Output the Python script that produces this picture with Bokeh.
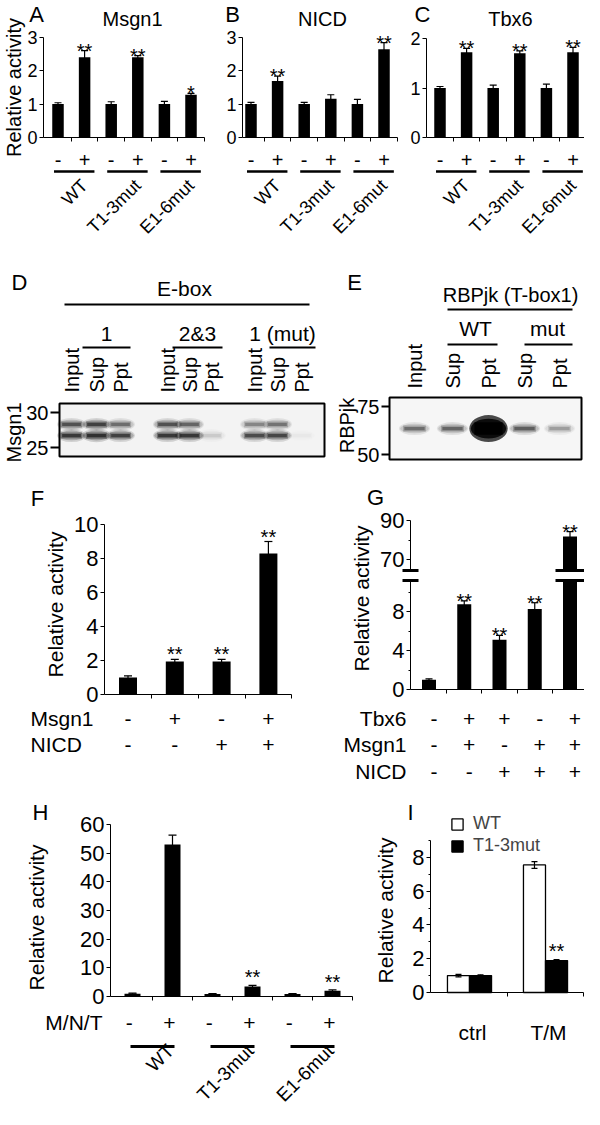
import math
from bokeh.plotting import figure
from bokeh.models import Range1d, LinearAxis, FixedTicker, Legend, LegendItem
from bokeh.layouts import row, column
from bokeh.embed import file_html
from bokeh.resources import INLINE
from bokeh.core.properties import value

FONT = "Liberation Sans"
PI = math.pi

# ===================== data =====================
# A-C: reporter activity of WT / mutant promoters with / without effector
promoters = ["WT", "T1-3mut", "E1-6mut"]
effector_signs = ["-", "+", "-", "+", "-", "+"]

msgn1_act = [1.00, 2.40, 1.00, 2.40, 1.00, 1.28]
msgn1_err = [0.04, 0.20, 0.07, 0.05, 0.08, 0.04]
msgn1_sig = ["", "**", "", "**", "", "*"]

nicd_act = [1.00, 1.69, 1.00, 1.16, 1.00, 2.64]
nicd_err = [0.05, 0.15, 0.05, 0.12, 0.14, 0.20]
nicd_sig = ["", "**", "", "", "", "**"]

tbx6_act = [1.00, 1.72, 1.00, 1.70, 1.00, 1.72]
tbx6_err = [0.03, 0.08, 0.06, 0.05, 0.08, 0.10]
tbx6_sig = ["", "**", "", "**", "", "**"]

# D: E-box pull-down, Msgn1 western blot
d_lanes = ["Input", "Sup", "Ppt", "Input", "Sup", "Ppt", "Input", "Sup", "Ppt"]
d_probes = ["1", "2&3", "1 (mut)"]
d_band_kda = [28.3, 26.7]
d_upper = [0.75, 0.90, 0.55, 0.75, 0.60, 0.00, 0.40, 0.50, 0.00]
d_lower = [1.00, 1.10, 0.90, 1.00, 1.00, 0.12, 0.80, 0.85, 0.03]
d_markers = [25, 30]

# E: T-box1 pull-down, RBPjk western blot
e_lanes = ["Input", "Sup", "Ppt", "Sup", "Ppt"]
e_probes = ["WT", "mut"]
e_band_kda = 63.5
e_signal = [0.55, 0.60, 8.0, 0.65, 0.30]
e_markers = [50, 75]

# F
f_msgn1 = ["-", "+", "-", "+"]
f_nicd = ["-", "-", "+", "+"]
f_act = [1.00, 1.94, 1.94, 8.30]
f_err = [0.10, 0.13, 0.13, 0.70]
f_sig = ["", "**", "**", "**"]

# G
g_tbx6 = ["-", "+", "+", "-", "+"]
g_msgn1 = ["-", "+", "-", "+", "+"]
g_nicd = ["-", "-", "+", "+", "+"]
g_act = [1.00, 8.75, 5.10, 8.25, 81.8]
g_err = [0.10, 0.35, 0.45, 0.65, 2.5]
g_sig = ["", "**", "**", "**", "**"]

# H
h_mnt = ["-", "+", "-", "+", "-", "+"]
h_act = [1.0, 53.0, 0.9, 3.5, 0.9, 2.0]
h_err = [0.15, 3.2, 0.10, 0.40, 0.10, 0.30]
h_sig = ["", "", "", "**", "", "**"]

# I
i_conditions = ["ctrl", "T/M"]
i_wt = [1.00, 7.55]
i_wt_err = [0.07, 0.20]
i_mut = [1.00, 1.89]
i_mut_err = [0.05, 0.06]
i_mut_sig = ["", "**"]


# ===================== helpers =====================
class Panel:
    """A figure whose frame is the whole canvas; px/py are page pixel positions."""
    def __init__(self, left, top, width, height, x0, xs, y0, ys):
        self.x0, self.xs, self.y0, self.ys = x0, xs, y0, ys
        self.p = figure(width=width, height=height, title=None, toolbar_location=None,
                        output_backend="svg", x_axis_type=None, y_axis_type=None,
                        x_range=Range1d(self.X(left), self.X(left + width)),
                        y_range=Range1d(self.Y(top + height), self.Y(top)),
                        min_border_left=0, min_border_right=0,
                        min_border_top=0, min_border_bottom=0,
                        outline_line_color=None)

    def X(self, px):
        return (px - self.x0) / self.xs

    def Y(self, py):
        return (self.y0 - py) / self.ys


def texts(P, xs, ys, strs, size, align="center", baseline="middle", angle=0.0, rname="default"):
    keep = [(x, y, s) for x, y, s in zip(xs, ys, strs) if s]
    if not keep:
        return
    P.p.text(x=[k[0] for k in keep], y=[k[1] for k in keep], text=[k[2] for k in keep],
             text_font=value(FONT), text_font_size=f"{size}px", text_color="black",
             text_align=align, text_baseline=baseline, angle=angle, y_range_name=rname)


def note(P, px, py, s, size, **kw):
    texts(P, [P.X(px)], [P.Y(py)], [s], size, **kw)


def hline(P, x0s, x1s, py, lw):
    P.p.segment(x0=x0s, y0=[P.Y(py)] * len(x0s), x1=x1s, y1=[P.Y(py)] * len(x0s),
                line_color="black", line_width=lw)


def yaxis(P, axis_px, lo, hi, ticks, minor=(), size=18, line=True, tick_out=4,
          tick_width=1, standoff=2, rname="default"):
    ax = LinearAxis(fixed_location=P.X(axis_px), bounds=(lo, hi),
                    ticker=FixedTicker(ticks=list(ticks), minor_ticks=list(minor)),
                    y_range_name=rname)
    ax.major_label_text_font = FONT
    ax.major_label_text_font_size = f"{size}px"
    ax.major_label_text_color = "black"
    ax.major_label_standoff = standoff
    ax.major_tick_in = 0
    ax.major_tick_out = tick_out
    ax.major_tick_line_width = tick_width
    ax.minor_tick_in = 0
    ax.minor_tick_out = 2
    ax.major_tick_line_color = "black"
    ax.minor_tick_line_color = "black"
    ax.axis_line_color = "black" if line else None
    ax.axis_line_width = 1
    P.p.add_layout(ax, "left")


def xaxis(P, lo, hi, minor, tick_out=4):
    ax = LinearAxis(fixed_location=0, bounds=(lo, hi),
                    ticker=FixedTicker(ticks=[], minor_ticks=list(minor)))
    ax.major_tick_in = 0
    ax.major_tick_out = 0
    ax.minor_tick_in = 0
    ax.minor_tick_out = tick_out
    ax.minor_tick_line_color = "black"
    ax.axis_line_color = "black"
    ax.axis_line_width = 1
    P.p.add_layout(ax, "below")


def errbars(P, xs, vals, errs, cap_px=7, rname="default", lw=1.2):
    if not xs:
        return
    lo = [v - e for v, e in zip(vals, errs)]
    hi = [v + e for v, e in zip(vals, errs)]
    hw = cap_px / 2 / P.xs
    P.p.segment(x0=xs, y0=lo, x1=xs, y1=hi, line_color="black", line_width=lw, y_range_name=rname)
    for ends in (hi, lo):
        P.p.segment(x0=[x - hw for x in xs], y0=ends, x1=[x + hw for x in xs], y1=ends,
                    line_color="black", line_width=lw, y_range_name=rname)


def stars(P, xs, vals, errs, sig, size, lift_px, yscale=None, rname="default"):
    ys = yscale or P.ys
    texts(P, xs, [v + e + lift_px / ys for v, e in zip(vals, errs)], sig, size,
          baseline="alphabetic", rname=rname)


def band(P, xs, kda, signal, width_px, base_h=5):
    """Soft blot band: stacked translucent layers, darker/larger with more signal."""
    ys = [kda] * len(xs)
    layers = [("ellipse", 2.6, 1.2, 0.14), ("ellipse", 1.9, 1.1, 0.2),
              ("rect", 1.2, 0.88, 0.32), ("rect", 0.65, 0.78, 0.5)]
    for kind, hmul, wmul, amul in layers:
        hs = [base_h * hmul * max(1.0, s) ** 0.35 for s in signal]
        ws = [width_px * wmul * max(1.0, s) ** 0.1 for s in signal]
        al = [1 - (1 - amul) ** s for s in signal]
        glyph = P.p.ellipse if kind == "ellipse" else P.p.rect
        glyph(x=xs, y=ys, width=ws, height=hs, width_units="screen", height_units="screen",
              fill_color="black", fill_alpha=al, line_color=None)


# ===================== A - C =====================
def promoter_panel(left, width, x0, yscale, axis_px, top_tick, title, title_px,
                   letter, letter_px, vals, errs, sig, ylabel=False):
    P = Panel(left, 8, width, 242, x0, 26.6, 145, yscale)
    n = len(vals)
    xs = list(range(n))
    yaxis(P, axis_px, 0, top_tick, list(range(top_tick + 1)), size=18)
    xaxis(P, P.X(axis_px), n - 0.5, [i + 0.5 for i in xs])
    P.p.vbar(x=xs, top=vals, bottom=0, width=11.5 / 26.6, fill_color="black", line_color=None)
    errbars(P, xs, vals, errs)
    stars(P, xs, vals, errs, sig, 20, 0)
    texts(P, xs, [P.Y(167)] * n, effector_signs, 20)
    npair = len(promoters)
    hline(P, [2 * g - 0.15 for g in range(npair)], [2 * g + 1.37 for g in range(npair)], 179, 2.5)
    texts(P, [2 * g + 1.0 for g in range(npair)], [P.Y(190)] * npair, promoters, 18,
          align="right", angle=PI / 4)
    note(P, title_px, 26, title, 20)
    note(P, letter_px, 9, letter, 22, baseline="top")
    if ylabel:
        note(P, 21, 95, "Relative activity", 20, angle=PI / 2)
    return P


A = promoter_panel(8, 207, 65.5, 33.4, 51, 3, "Msgn1", 140, "A", 44,
                   msgn1_act, msgn1_err, msgn1_sig, ylabel=True)
B = promoter_panel(215, 195, 258.5, 33.4, 250, 3, "NICD", 330, "B", 240,
                   nicd_act, nicd_err, nicd_sig)
C = promoter_panel(410, 182, 447.5, 49.5, 434, 2, "Tbx6", 518, "C", 430,
                   tbx6_act, tbx6_err, tbx6_sig)

# ===================== D =====================
ROW2_H = 230
D = Panel(8, 250, 332, ROW2_H, 0, 1, 630, 7)
D.p.quad(left=[67], right=[332], top=[D.Y(411)], bottom=[D.Y(464)],
         fill_color="#f3f3f3", line_color="black", line_width=2)
d_x = [79, 104, 128, 175, 197, 219, 262, 285, 309]
band(D, d_x, d_band_kda[0], d_upper, 24)
band(D, d_x, d_band_kda[1], d_lower, 24)
yaxis(D, 67, 25, 30, d_markers, size=20, line=False, tick_out=9, tick_width=2)
texts(D, d_x, [D.Y(400)] * len(d_x), d_lanes, 20, align="left", angle=PI / 2)
note(D, 27, 290, "D", 22)
note(D, 192, 296, "E-box", 21)
hline(D, [72], [317], 312, 2)
texts(D, [114, 205, 290], [D.Y(341)] * 3, d_probes, 21)
hline(D, [90, 180, 277], [138, 230, 323], 355, 2)
note(D, 21, 440, "Msgn1", 20, angle=PI / 2)

# ===================== E =====================
E = Panel(340, 250, 252, ROW2_H, 0, 1, 558, 1.92)
E.p.quad(left=[397], right=[589], top=[E.Y(405)], bottom=[E.Y(467)],
         fill_color="#f6f6f6", line_color="black", line_width=2)
e_x = [422, 460, 496, 532, 567]
band(E, e_x, e_band_kda, e_signal, 26)
yaxis(E, 397, 50, 75, e_markers, size=20, line=False, tick_out=8, tick_width=2)
texts(E, e_x, [E.Y(396)] * len(e_x), e_lanes, 20, align="left", angle=PI / 2)
note(E, 362, 290, "E", 22)
note(E, 518, 302, "RBPjk (T-box1)", 20)
hline(E, [455], [580], 317, 2)
texts(E, [483, 555], [E.Y(336)] * 2, e_probes, 21)
hline(E, [455, 532], [505, 580], 352, 2)
note(E, 354, 433, "RBPjk", 20, angle=PI / 2)

# ===================== F =====================
ROW3_TOP = 250 + ROW2_H
ROW3_H = 790 - ROW3_TOP
F = Panel(8, ROW3_TOP, 322, ROW3_H, 135.5, 46.8, 702, 17.0)
fx = list(range(len(f_act)))
yaxis(F, 112, 0, 10, [0, 2, 4, 6, 8, 10], size=22)
xaxis(F, F.X(112), len(fx) - 0.5, [i + 0.5 for i in fx])
F.p.vbar(x=fx, top=f_act, bottom=0, width=18 / 46.8, fill_color="black", line_color=None)
errbars(F, fx, f_act, f_err, cap_px=8)
stars(F, fx, f_act, f_err, f_sig, 20, 5)
note(F, 45, 506, "F", 22)
note(F, 63, 612, "Relative activity", 21, angle=PI / 2)
texts(F, [F.X(38)] * 2, [F.Y(726), F.Y(752)], ["Msgn1", "NICD"], 21, align="left")
texts(F, fx, [F.Y(726)] * len(fx), f_msgn1, 21)
texts(F, fx, [F.Y(752)] * len(fx), f_nicd, 21)

# ===================== G (broken axis) =====================
G = Panel(330, ROW3_TOP, 262, ROW3_H, 436.5, 35.25, 697, 9.75)
UP_PY, UP_VAL, UP_S = 567, 70, 1.95          # upper segment: 70 at py 567, 1.95 px / unit
G.p.extra_y_ranges = {"upper": Range1d(UP_VAL + (UP_PY - 790) / UP_S,
                                       UP_VAL + (UP_PY - ROW3_TOP) / UP_S)}
LOW_BRK = G.Y(588)
HIGH_BRK = UP_VAL + (UP_PY - 578) / UP_S
gx = list(range(len(g_act)))
yaxis(G, 418, 0, LOW_BRK, [0, 4, 8], minor=[2, 6, 10], size=22)
yaxis(G, 418, HIGH_BRK, 90, [70, 90], minor=[80], size=22, rname="upper")
xaxis(G, G.X(418), len(gx) - 0.5, [i + 0.5 for i in gx])
G.p.vbar(x=gx, top=[min(v, LOW_BRK) for v in g_act], bottom=0, width=14 / 35.25,
         fill_color="black", line_color=None)
hi_idx = [i for i, v in enumerate(g_act) if v > LOW_BRK]
lo_idx = [i for i, v in enumerate(g_act) if v <= LOW_BRK]
G.p.vbar(x=[gx[i] for i in hi_idx], top=[g_act[i] for i in hi_idx], bottom=HIGH_BRK,
         width=14 / 35.25, fill_color="black", line_color=None, y_range_name="upper")
errbars(G, [gx[i] for i in lo_idx], [g_act[i] for i in lo_idx], [g_err[i] for i in lo_idx])
errbars(G, [gx[i] for i in hi_idx], [g_act[i] for i in hi_idx], [g_err[i] for i in hi_idx],
        rname="upper")
stars(G, [gx[i] for i in lo_idx], [g_act[i] for i in lo_idx], [g_err[i] for i in lo_idx],
      [g_sig[i] for i in lo_idx], 20, 0)
stars(G, [gx[i] for i in hi_idx], [g_act[i] for i in hi_idx], [g_err[i] for i in hi_idx],
      [g_sig[i] for i in hi_idx], 20, 0, yscale=UP_S, rname="upper")
brk_x0 = [G.X(410), G.X(563)]
brk_x1 = [G.X(426), G.X(597)]
G.p.segment(x0=brk_x0, y0=[LOW_BRK] * 2, x1=brk_x1, y1=[LOW_BRK] * 2, line_color="black", line_width=3)
G.p.segment(x0=brk_x0, y0=[HIGH_BRK] * 2, x1=brk_x1, y1=[HIGH_BRK] * 2, line_color="black",
            line_width=3, y_range_name="upper")
note(G, 383, 505, "G", 22)
note(G, 369, 606, "Relative activity", 21, angle=PI / 2)
texts(G, [G.X(414)] * 3, [G.Y(726), G.Y(752), G.Y(779)], ["Tbx6", "Msgn1", "NICD"], 21, align="right")
for signs, py in ((g_tbx6, 726), (g_msgn1, 752), (g_nicd, 779)):
    texts(G, [x + 0.14 for x in gx], [G.Y(py)] * len(gx), signs, 21)

# ===================== H =====================
H = Panel(8, 790, 372, 325, 140, 40, 1004, 2.87)
hx = list(range(len(h_act)))
yaxis(H, 118, 0, 60, [0, 10, 20, 30, 40, 50, 60], size=22)
xaxis(H, H.X(118), len(hx) - 0.5, [i + 0.5 for i in hx])
H.p.vbar(x=hx, top=h_act, bottom=0, width=0.4, fill_color="black", line_color=None)
errbars(H, hx, h_act, h_err, cap_px=8)
stars(H, hx, h_act, h_err, h_sig, 20, 8)
note(H, 48, 820, "H", 22)
note(H, 44, 925, "Relative activity", 21, angle=PI / 2)
note(H, 110, 1030, "M/N/T", 21, align="right")
texts(H, [x - 0.08 for x in hx], [H.Y(1030)] * len(hx), h_mnt, 21)
npair = len(promoters)
hline(H, [2 * g - 0.05 for g in range(npair)], [2 * g + 1.05 for g in range(npair)], 1054, 3)
texts(H, [2 * g + 0.95 for g in range(npair)], [H.Y(1055)] * npair, promoters, 19,
      align="right", angle=PI / 4)

# ===================== I =====================
I = Panel(380, 790, 212, 325, 477, 76, 1000, 16.9)
ix = list(range(len(i_conditions)))
yaxis(I, 438, 0, 9, [0, 2, 4, 6, 8], minor=[1, 3, 5, 7, 9], size=22)
xaxis(I, I.X(438), len(ix) - 0.5, [i + 0.5 for i in ix])
wx = [x - 0.145 for x in ix]
mx = [x + 0.145 for x in ix]
r_wt = I.p.vbar(x=wx, top=i_wt, bottom=0, width=0.29, fill_color="white",
                line_color="black", line_width=1.3)
r_mut = I.p.vbar(x=mx, top=i_mut, bottom=0, width=0.29, fill_color="black",
                 line_color="black", line_width=1.3)
errbars(I, wx, i_wt, i_wt_err, cap_px=6)
errbars(I, mx, i_mut, i_mut_err, cap_px=6)
stars(I, mx, i_mut, i_mut_err, i_mut_sig, 20, 9)
texts(I, [x + 0.04 for x in ix], [I.Y(1040)] * len(ix), i_conditions, 21)
note(I, 418, 820, "I", 22)
note(I, 393, 918, "Relative activity", 21, angle=PI / 2)
leg = Legend(items=[LegendItem(label="WT", renderers=[r_wt]),
                    LegendItem(label="T1-3mut", renderers=[r_mut])],
             location=(78, 251))
leg.glyph_width = 14
leg.glyph_height = 14
leg.label_text_font = FONT
leg.label_text_font_size = "18px"
leg.label_height = 14
leg.label_standoff = 9
leg.spacing = 1
leg.padding = 0
leg.margin = 0
leg.border_line_color = None
leg.background_fill_alpha = 0
I.p.add_layout(leg)

# ===================== layout =====================
layout = column(
    row(A.p, B.p, C.p),
    row(D.p, E.p),
    row(F.p, G.p),
    row(H.p, I.p),
)

open("out.html", "w").write(file_html(layout, INLINE))
